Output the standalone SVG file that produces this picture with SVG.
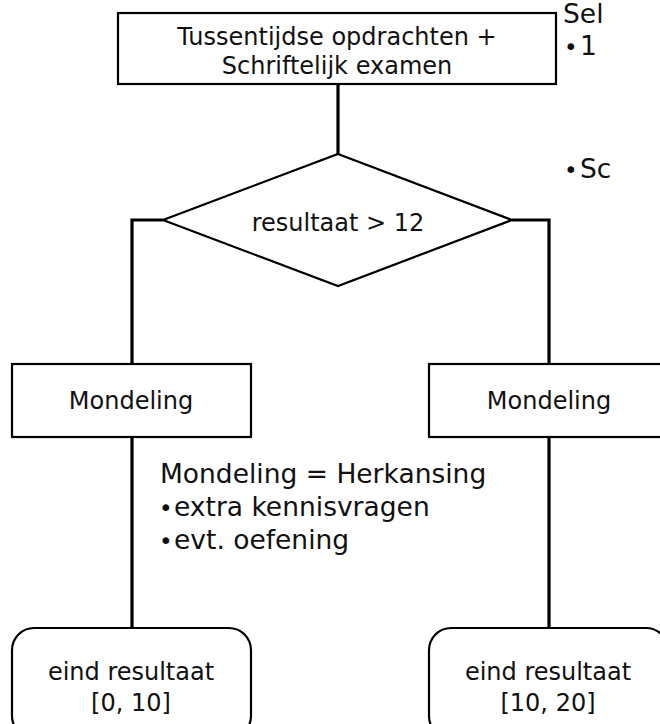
<svg xmlns="http://www.w3.org/2000/svg" width="660" height="724" viewBox="0 0 660 724">
<style>
.box{fill:#fff;stroke:#000;stroke-width:2.2}
.con{fill:none;stroke:#000;stroke-width:3.2}
.t{font-family:"DejaVu Sans",Verdana,sans-serif;font-size:24px;fill:#111;text-anchor:middle}
.c{font-family:"DejaVu Sans",Verdana,sans-serif;font-size:26.5px;fill:#111}
.b{font-size:23px}
</style>
<rect width="660" height="724" fill="#fff"/>
<g id="connectors">
<path class="con" d="M338 84 V154"/>
<path class="con" d="M163 220 H132 V364"/>
<path class="con" d="M512 220 H549 V364"/>
<path class="con" d="M132 437 V628"/>
<path class="con" d="M549 437 V628"/>
</g>
<g id="start">
<rect class="box" x="118" y="13" width="438" height="71"/>
<text class="t" x="337" y="45">Tussentijdse opdrachten +</text>
<text class="t" x="337" y="74">Schriftelijk examen</text>
</g>
<g id="decision">
<polygon class="box" points="338,154 512,220 338,286 163,220"/>
<text class="t" x="338" y="231">resultaat &gt; 12</text>
</g>
<g id="mondeling-left">
<rect class="box" x="12" y="364" width="239" height="73"/>
<text class="t" x="131" y="409">Mondeling</text>
</g>
<g id="mondeling-right">
<rect class="box" x="429" y="364" width="240" height="73"/>
<text class="t" x="549" y="409">Mondeling</text>
</g>
<g id="note">
<text class="c" x="160" y="483">Mondeling = Herkansing</text>
<text class="c" x="159" y="516"><tspan class="b">•</tspan><tspan x="174">extra kennisvragen</tspan></text>
<text class="c" x="159" y="549"><tspan class="b">•</tspan><tspan x="174">evt. oefening</tspan></text>
</g>
<g id="result-left">
<rect class="box" x="12" y="628" width="239" height="110" rx="22"/>
<text class="t" x="131" y="680">eind resultaat</text>
<text class="t" x="131" y="711">[0, 10]</text>
</g>
<g id="result-right">
<rect class="box" x="429" y="628" width="239" height="110" rx="22"/>
<text class="t" x="548" y="680">eind resultaat</text>
<text class="t" x="548" y="711">[10, 20]</text>
</g>
<g id="side-text">
<text class="c" x="563" y="23">Sel</text>
<text class="c" x="564" y="55"><tspan class="b">•</tspan><tspan x="580">1</tspan></text>
<text class="c" x="564" y="178"><tspan class="b">•</tspan><tspan x="580">Sc</tspan></text>
</g>
</svg>
